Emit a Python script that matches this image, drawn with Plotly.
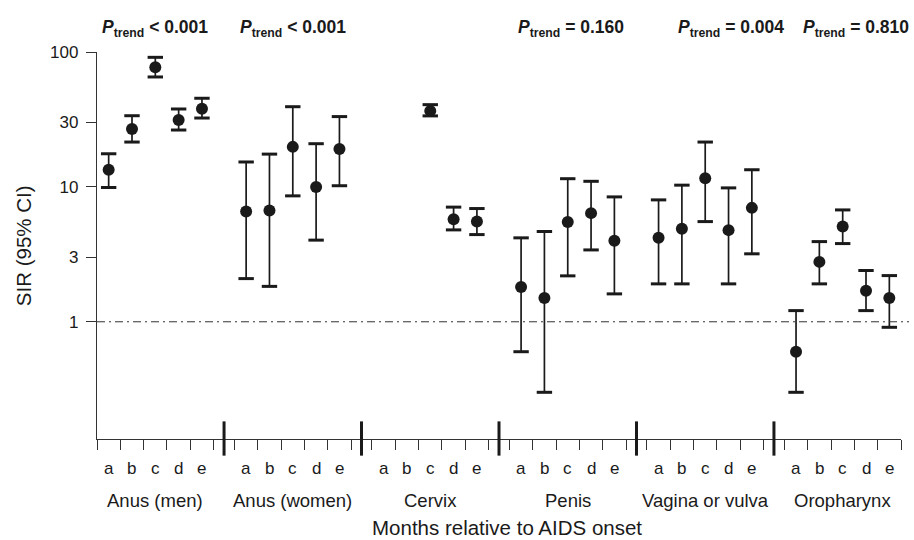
import math
import plotly.graph_objects as go

# ---------------- data ----------------
GROUPS = ["Anus (men)", "Anus (women)", "Cervix", "Penis", "Vagina or vulva", "Oropharynx"]
PERIODS = ["a", "b", "c", "d", "e"]

SIR_ANUS_MEN = [13.4, 26.9, 77.0, 31.3, 38.0]
LO_ANUS_MEN = [9.9, 21.5, 65.3, 26.4, 32.4]
HI_ANUS_MEN = [17.6, 33.7, 91.3, 37.8, 45.4]

SIR_ANUS_WOMEN = [6.56, 6.68, 19.8, 10.0, 19.1]
LO_ANUS_WOMEN = [2.09, 1.83, 8.58, 4.03, 10.2]
HI_ANUS_WOMEN = [15.3, 17.5, 39.3, 20.9, 33.2]

SIR_CERVIX = [None, None, 36.6, 5.76, 5.53]
LO_CERVIX = [None, None, 33.6, 4.80, 4.43]
HI_CERVIX = [None, None, 40.7, 7.08, 6.91]

SIR_PENIS = [1.81, 1.50, 5.5, 6.39, 3.98]
LO_PENIS = [0.60, 0.30, 2.19, 3.41, 1.61]
HI_PENIS = [4.19, 4.67, 11.5, 11.0, 8.43]

SIR_VAGINA = [4.19, 4.89, 11.6, 4.78, 6.99]
LO_VAGINA = [1.91, 1.91, 5.53, 1.91, 3.19]
HI_VAGINA = [8.01, 10.3, 21.5, 9.83, 13.4]

SIR_OROPHARYNX = [0.60, 2.78, 5.08, 1.70, 1.50]
LO_OROPHARYNX = [0.30, 1.91, 3.80, 1.21, 0.91]
HI_OROPHARYNX = [1.21, 3.93, 6.75, 2.40, 2.20]

P_TREND = ["&lt; 0.001", "&lt; 0.001", None, "= 0.160", "= 0.004", "= 0.810"]

Y_TICKS = [1, 3, 10, 30, 100]
REF_LINE = 1

SIR = [SIR_ANUS_MEN, SIR_ANUS_WOMEN, SIR_CERVIX, SIR_PENIS, SIR_VAGINA, SIR_OROPHARYNX]
LO = [LO_ANUS_MEN, LO_ANUS_WOMEN, LO_CERVIX, LO_PENIS, LO_VAGINA, LO_OROPHARYNX]
HI = [HI_ANUS_MEN, HI_ANUS_WOMEN, HI_CERVIX, HI_PENIS, HI_VAGINA, HI_OROPHARYNX]

# ---------------- layout geometry ----------------
G = 5.894          # width of one group in slot units
NPER = len(PERIODS)
XMAX = (len(GROUPS) - 1) * G + NPER
YRANGE = [-0.869, 2.0]
PT_OFFSET = [0, 0, 0, 0.16, 1.09, 0.56]  # label nudges (slot units)

INK = "#1a1a1a"
FONT = "Liberation Sans, Arial, Helvetica, sans-serif"

xs, ys, em, ep = [], [], [], []
cap_x, cap_y = [], []
for k in range(len(GROUPS)):
    for j in range(NPER):
        x = k * G + j + 0.5
        v, lo, hi = SIR[k][j], LO[k][j], HI[k][j]
        if v is None:
            continue
        xs.append(x)
        ys.append(v)
        em.append(v - lo)
        ep.append(hi - v)
        cap_x += [x, x]
        cap_y += [lo, hi]

fig = go.Figure()
fig.add_trace(go.Scatter(
    x=xs, y=ys, mode="markers",
    marker=dict(color=INK, size=12),
    error_y=dict(type="data", symmetric=False, array=ep, arrayminus=em,
                 color=INK, thickness=1.7, width=0),
    hoverinfo="skip",
))
fig.add_trace(go.Scatter(
    x=cap_x, y=cap_y, mode="markers",
    marker=dict(symbol="line-ew", size=11, line=dict(width=3, color=INK), color=INK),
    hoverinfo="skip",
))

minor_ticks = [k * G + m for k in range(len(GROUPS)) for m in range(NPER + 1)]
separators = [k * G + NPER + (G - NPER) / 2 for k in range(len(GROUPS) - 1)]

shapes = []
for s in separators:
    shapes.append(dict(type="line", xref="x", yref="paper", x0=s, x1=s,
                       y0=-0.043, y1=0.0455, line=dict(color=INK, width=3)))
ref_p = (math.log10(REF_LINE) - YRANGE[0]) / (YRANGE[1] - YRANGE[0])
shapes.append(dict(type="line", xref="paper", yref="paper", x0=0, x1=1.01,
                   y0=ref_p, y1=ref_p,
                   line=dict(color="#333333", width=1, dash="8px,4px,2px,4px")))

ann = []
for k, g in enumerate(GROUPS):
    for j, p in enumerate(PERIODS):
        ann.append(dict(x=k * G + j + 0.5, y=-0.075, xref="x", yref="paper",
                        xanchor="center", yanchor="middle",
                        text=p, showarrow=False, font=dict(size=17, color=INK)))
    ann.append(dict(x=k * G + 2.5, y=-0.158, xref="x", yref="paper",
                    xanchor="center", yanchor="middle",
                    text=g, showarrow=False, font=dict(size=18.5, color=INK)))
    if P_TREND[k]:
        ann.append(dict(x=k * G + 2.5 + PT_OFFSET[k], y=1.062, xref="x", yref="paper",
                        xanchor="center", yanchor="middle",
                        text="<b><i>P</i><sub>trend</sub> " + P_TREND[k] + "</b>",
                        showarrow=False, font=dict(size=17.5, color=INK)))
ann.append(dict(x=0.51, y=-0.228, xref="paper", yref="paper",
                xanchor="center", yanchor="middle",
                text="Months relative to AIDS onset", showarrow=False,
                font=dict(size=20.5, color=INK)))
ann.append(dict(x=-0.0912, y=0.5, xref="paper", yref="paper",
                xanchor="center", yanchor="middle",
                text="SIR (95% CI)", textangle=-90, showarrow=False,
                font=dict(size=20.5, color=INK)))

fig.update_layout(
    template="none",
    width=914, height=540,
    margin=dict(l=97, r=13, t=52, b=101),
    plot_bgcolor="white", paper_bgcolor="white",
    showlegend=False,
    font=dict(family=FONT, color=INK),
    shapes=shapes,
    annotations=ann,
    xaxis=dict(range=[0, XMAX], showline=True, linecolor="#333333", linewidth=1.3,
               ticks="outside", tickvals=minor_ticks, ticklen=10, tickwidth=1,
               tickcolor="#333333", showticklabels=False, showgrid=False,
               zeroline=False, automargin=False),
    yaxis=dict(type="log", range=YRANGE, showline=True, linecolor="#333333",
               linewidth=1.3, ticks="outside", tickvals=Y_TICKS,
               ticktext=[str(t) for t in Y_TICKS], ticklen=10, tickwidth=1,
               tickcolor="#333333", tickfont=dict(size=17, color=INK),
               showgrid=False, zeroline=False, automargin=False,
               ticklabelstandoff=4),
)

fig.write_html("out.html", config={"displayModeBar": False},
               post_script="document.body.style.margin='0';")
